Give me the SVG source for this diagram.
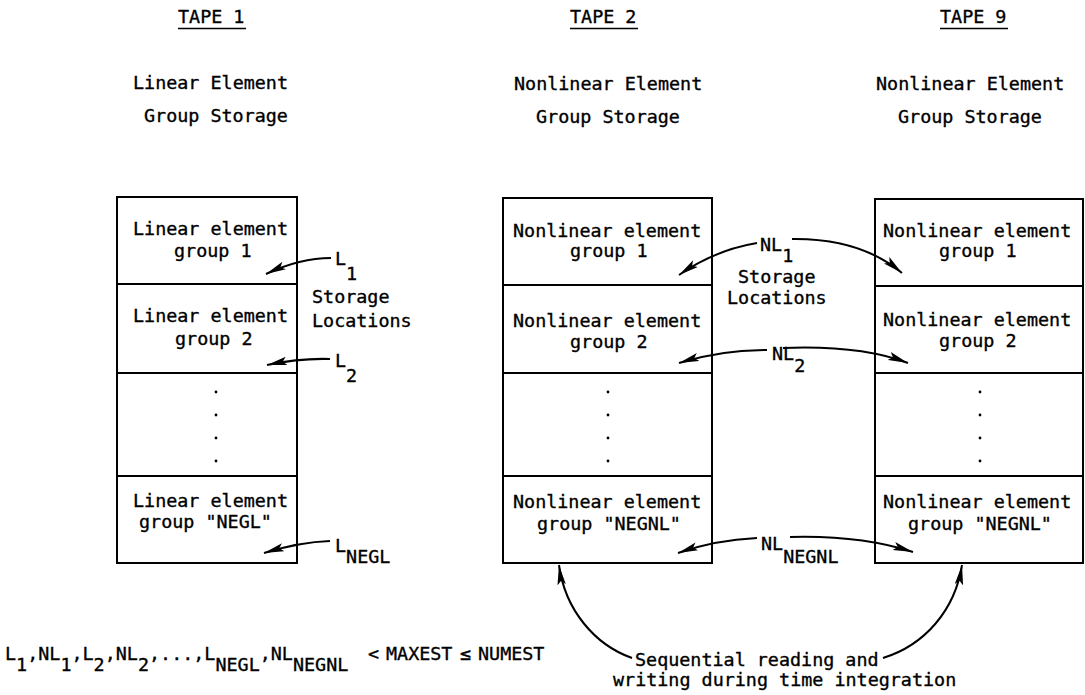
<svg xmlns="http://www.w3.org/2000/svg" width="1085" height="695" viewBox="0 0 1085 695">
<style>
.t{font-family:"DejaVu Sans Mono","Liberation Mono",monospace;font-size:18.4px;fill:#000;stroke:#000;stroke-width:0.35}
.box{fill:#fff;stroke:#000;stroke-width:2}
.div{stroke:#000;stroke-width:2}
.ul{stroke:#000;stroke-width:1.5}
.con{fill:none;stroke:#000;stroke-width:2;marker-end:url(#ah)}
.dot{fill:#000}
</style>
<defs>
<marker id="ah" markerUnits="userSpaceOnUse" markerWidth="20" markerHeight="10" viewBox="0 0 20 10" refX="20" refY="5" orient="auto">
<path d="M0,0.8 L20,5 L0,9.2 L4,5 Z" fill="#000"/>
</marker>
</defs>
<rect width="1085" height="695" fill="#fff"/>

<g id="headers">
<text class="t" x="178" y="23">TAPE 1</text>
<line class="ul" x1="178" y1="28.5" x2="246" y2="28.5"/>
<text class="t" x="133" y="89">Linear Element</text>
<text class="t" x="144" y="122">Group Storage</text>
<text class="t" x="570" y="23">TAPE 2</text>
<line class="ul" x1="570" y1="28.5" x2="638" y2="28.5"/>
<text class="t" x="514" y="90">Nonlinear Element</text>
<text class="t" x="536" y="123">Group Storage</text>
<text class="t" x="940" y="23">TAPE 9</text>
<line class="ul" x1="940" y1="28.5" x2="1008" y2="28.5"/>
<text class="t" x="876" y="90">Nonlinear Element</text>
<text class="t" x="898" y="123">Group Storage</text>
</g>

<g id="tape1">
<rect class="box" x="117" y="197" width="180" height="366"/>
<line class="div" x1="117" y1="284" x2="297" y2="284"/>
<line class="div" x1="117" y1="373" x2="297" y2="373"/>
<line class="div" x1="117" y1="476" x2="297" y2="476"/>
<text class="t" x="133" y="235">Linear element</text>
<text class="t" x="174" y="257">group 1</text>
<text class="t" x="133" y="322">Linear element</text>
<text class="t" x="175" y="345">group 2</text>
<circle class="dot" cx="216" cy="392" r="1.4"/>
<circle class="dot" cx="216" cy="415" r="1.4"/>
<circle class="dot" cx="216" cy="438" r="1.4"/>
<circle class="dot" cx="216" cy="461" r="1.4"/>
<text class="t" x="133" y="507">Linear element</text>
<text class="t" x="139" y="528">group "NEGL"</text>
</g>

<g id="tape2">
<rect class="box" x="503" y="198" width="209" height="365"/>
<line class="div" x1="503" y1="285" x2="712" y2="285"/>
<line class="div" x1="503" y1="373" x2="712" y2="373"/>
<line class="div" x1="503" y1="476" x2="712" y2="476"/>
<text class="t" x="513" y="237">Nonlinear element</text>
<text class="t" x="570" y="257">group 1</text>
<text class="t" x="513" y="327">Nonlinear element</text>
<text class="t" x="570" y="348">group 2</text>
<circle class="dot" cx="608" cy="392" r="1.4"/>
<circle class="dot" cx="608" cy="415" r="1.4"/>
<circle class="dot" cx="608" cy="438" r="1.4"/>
<circle class="dot" cx="608" cy="461" r="1.4"/>
<text class="t" x="513" y="508">Nonlinear element</text>
<text class="t" x="537" y="530">group "NEGNL"</text>
</g>

<g id="tape9">
<rect class="box" x="875" y="199" width="208" height="364"/>
<line class="div" x1="875" y1="286" x2="1083" y2="286"/>
<line class="div" x1="875" y1="373" x2="1083" y2="373"/>
<line class="div" x1="875" y1="476" x2="1083" y2="476"/>
<text class="t" x="883" y="237">Nonlinear element</text>
<text class="t" x="939" y="257">group 1</text>
<text class="t" x="883" y="326">Nonlinear element</text>
<text class="t" x="939" y="347">group 2</text>
<circle class="dot" cx="980" cy="392" r="1.4"/>
<circle class="dot" cx="980" cy="415" r="1.4"/>
<circle class="dot" cx="980" cy="438" r="1.4"/>
<circle class="dot" cx="980" cy="461" r="1.4"/>
<text class="t" x="883" y="508">Nonlinear element</text>
<text class="t" x="908" y="530">group "NEGNL"</text>
</g>

<g id="labels">
<text class="t" x="335" y="265">L<tspan dy="15">1</tspan></text>
<text class="t" x="312" y="303">Storage</text>
<text class="t" x="312" y="327">Locations</text>
<text class="t" x="335" y="367">L<tspan dy="15">2</tspan></text>
<text class="t" x="335" y="552">L<tspan dy="11">NEGL</tspan></text>
<text class="t" x="760" y="251">NL<tspan dy="11">1</tspan></text>
<text class="t" x="738" y="283">Storage</text>
<text class="t" x="727" y="304">Locations</text>
<text class="t" x="772" y="360">NL<tspan dy="12">2</tspan></text>
<text class="t" x="761" y="550">NL<tspan dy="13">NEGNL</tspan></text>
<text class="t" x="635" y="666">Sequential reading and</text>
<text class="t" x="613" y="686">writing during time integration</text>
</g>

<g id="formula">
<text class="t" x="5" y="660">L<tspan dy="11">1</tspan><tspan dy="-11">,NL</tspan><tspan dy="11">1</tspan><tspan dy="-11">,L</tspan><tspan dy="11">2</tspan><tspan dy="-11">,NL</tspan><tspan dy="11">2</tspan><tspan dy="-11">,...,L</tspan><tspan dy="11">NEGL</tspan><tspan dy="-11">,NL</tspan><tspan dy="11">NEGNL</tspan><tspan dy="-11" x="368">&lt;</tspan><tspan x="386">MAXEST</tspan><tspan x="460">≤</tspan><tspan x="478">NUMEST</tspan></text>
</g>

<g id="connectors">
<path class="con" d="M331,258 Q300,258 266,274"/>
<path class="con" d="M330,359 Q300,358 267,365"/>
<path class="con" d="M330,541 Q300,542 264,553"/>
<path class="con" d="M757,243 Q715,250 679,275"/>
<path class="con" d="M792,239 Q860,238 902,273"/>
<path class="con" d="M767,350 Q720,350 679,363"/>
<path class="con" d="M783,348 Q860,345 908,363"/>
<path class="con" d="M757,538 Q715,540 678,553"/>
<path class="con" d="M790,537 Q860,535 913,552"/>
<path class="con" d="M632,658 C595,645 565,610 559,565"/>
<path class="con" d="M883,658 C925,645 955,610 962,565"/>
</g>
</svg>
